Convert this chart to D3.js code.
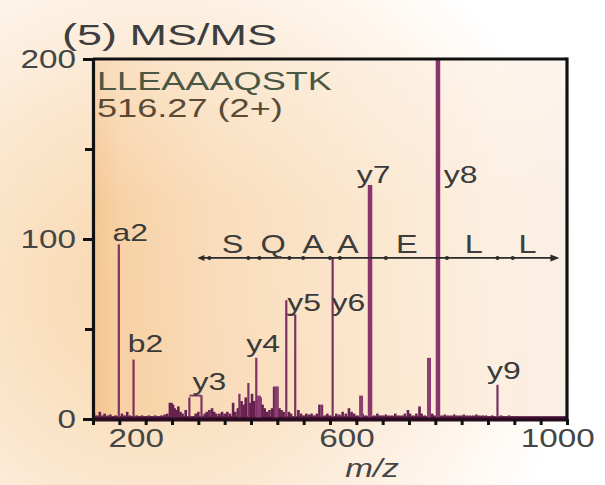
<!DOCTYPE html>
<html><head><meta charset="utf-8">
<script src="https://cdn.jsdelivr.net/npm/d3@7/dist/d3.min.js"></script>
<style>html,body{margin:0;padding:0;background:#fff;}svg{display:block;}</style>
</head><body><svg id="c" width="605" height="485"></svg>
<script>
// ---------- data ----------
const title = "(5) MS/MS";
const peptide = "LLEAAAQSTK";
const precursor = "516.27 (2+)";
const xTickLabels = [200, 600, 1000];
const yTickLabels = [0, 100, 200];

// main fragment peaks
const peakMz  = [199, 227, 333, 356, 428, 445, 460, 465, 498, 517, 534, 585, 605, 659, 676, 788, 805, 918];
const peakInt = [ 97,  33,  12,  13,  14,  20,  34,  13,  18,  66,  58,   8,  90,  13, 130,  34, 215,  19];

// bracket connectors between paired peaks: [from m/z, to m/z, intensity]
const bracketFrom = [333, 517];
const bracketTo   = [356, 534];
const bracketInt  = [13, 58];

// baseline noise peaks
const noiseMz  = [152,158,163,168,172,178,183,188,193,205,210,215,220,233,238,243,250,256,262,268,274,280,286,291,296,299,302,305,308,312,316,320,326,345,350,362,366,371,376,380,384,390,395,400,405,410,416,420,425,432,436,440,448,452,456,468,472,476,480,485,490,494,497,500,504,508,512,522,526,540,545,550,555,560,565,570,575,580,590,595,600,612,618,624,630,636,641,646,652,662,668,684,690,695,700,706,712,718,724,730,736,742,748,752,758,764,770,774,780,794,798,812,818,824,830,836,842,848,854,860,866,872,878,884,890,896,902,908,925,932,940,948,955];
const noiseInt = [3,2,4,2,3,2,2.5,1.5,2,3,2,4,2,2,1.5,2,1.5,2,1.5,2,1.5,2,2.5,3,9,9,8,6,5,7,4,3,5,3,4,3,4,5,6,4,3,3,4,3,4,3,9,4,6,10,8,12,9,14,10,12,8,6,4,5,6,18,17,18,6,5,4,4,3,5,3,2,3,2.5,3,2,3,8,2,3,2,3,2.5,4,3,6,4,3,2,3,2,2,3,2,2,2.5,2,2,3,2,2,3,5,3,2,3,7,3,2,3,2,2,2.5,2,2,2.5,2,2,2.5,2,2,2,2.5,2,2,2,1.5,2,2,1.5,2,1.5,1.5];

// peak labels: text and anchor (m/z, intensity) of label start / baseline
const labelText = ["a2","b2","y3","y4","y5","y6","y7","y8","y9"];
const labelMz   = [187, 216, 339, 441, 519, 603, 651, 816, 898];
const labelInt  = [ 99,  37,  16,  37,  60,  60, 131, 131,  22];

// sequence ladder annotation
const seqLetters = ["S","Q","A","A","E","L","L"];
const seqLetterMz = [415, 492, 568, 634, 746, 873, 975];
const seqDotsMz = [371, 445, 466, 523, 549, 600, 619, 706, 822, 918, 947];
const seqStartMz = 352, seqEndMz = 1030, seqInt = 89.5, seqLetterInt = 92.5;

// ---------- layout ----------
const L = 93, R = 567, T = 59, B = 419;
const svg = d3.select("#c");
const x = d3.scaleLinear().domain([150, 1050]).range([L, R]);
const y = d3.scaleLinear().domain([0, 200]).range([B, T]);
const FONT = "'Liberation Sans', Arial, Helvetica, sans-serif";

const defs = svg.append("defs");
const bg = defs.append("radialGradient").attr("id","bg").attr("gradientUnits","userSpaceOnUse")
  .attr("cx",150).attr("cy",290).attr("r",430);
bg.append("stop").attr("offset","0%").attr("stop-color","#f8d6ab");
bg.append("stop").attr("offset","45%").attr("stop-color","#fbe6cd");
bg.append("stop").attr("offset","80%").attr("stop-color","#fef6ee");
bg.append("stop").attr("offset","100%").attr("stop-color","#ffffff");
const pg = defs.append("linearGradient").attr("id","pg").attr("x1","0").attr("x2","1").attr("y1","0").attr("y2","0");
[["0%","#f4c48f"],["6%","#f7d0a2"],["25%","#f9dbb8"],["55%","#fbe5cb"],["85%","#fcefe0"],["100%","#fbeee4"]]
  .forEach(s => pg.append("stop").attr("offset",s[0]).attr("stop-color",s[1]));
const pv = defs.append("linearGradient").attr("id","pv").attr("x1","0").attr("x2","0").attr("y1","0").attr("y2","1");
pv.append("stop").attr("offset","0%").attr("stop-color","#ffffff").attr("stop-opacity",0.35);
pv.append("stop").attr("offset","40%").attr("stop-color","#ffffff").attr("stop-opacity",0.05);
pv.append("stop").attr("offset","100%").attr("stop-color","#ffffff").attr("stop-opacity",0);
const clip = defs.append("clipPath").attr("id","clip");
clip.append("rect").attr("x",L).attr("y",T).attr("width",R-L).attr("height",B-T);

svg.append("rect").attr("width",605).attr("height",485).attr("fill","url(#bg)");
svg.append("rect").attr("x",L).attr("y",T).attr("width",R-L).attr("height",B-T).attr("fill","url(#pg)");
svg.append("rect").attr("x",L).attr("y",T).attr("width",R-L).attr("height",B-T).attr("fill","url(#pv)");

function stretchedText(parent, px, py, str, size, sx, anchor, color, extra) {
  const g = parent.append("g").attr("transform", `translate(${px},${py}) scale(${sx},1)`);
  const t = g.append("text").attr("x",0).attr("y",0).text(str)
    .attr("font-family",FONT).attr("font-size",size).attr("fill",color)
    .attr("text-anchor",anchor||"start");
  if (extra) extra(t);
  return t;
}

// ---------- peaks ----------
const plot = svg.append("g").attr("clip-path","url(#clip)");
plot.append("rect").attr("x",L).attr("y",y(1.6)).attr("width",R-L).attr("height",B-y(1.6)).attr("fill","#5e1d4b");
plot.selectAll("line.noise").data(noiseMz).join("line").attr("class","noise")
  .attr("x1",d=>x(d)).attr("x2",d=>x(d)).attr("y1",B).attr("y2",(d,i)=>y(noiseInt[i]))
  .attr("stroke","#66214f").attr("stroke-width",2.6);
const thick = new Set([465, 498, 659, 788]);
const bold = new Set([676, 805]);
plot.selectAll("line.peak").data(peakMz).join("line").attr("class","peak")
  .attr("x1",d=>x(d)).attr("x2",d=>x(d)).attr("y1",B).attr("y2",(d,i)=>y(peakInt[i]))
  .attr("stroke",d=> bold.has(d) ? "#8a356d" : (thick.has(d) ? "#8e3d72" : "#7d3160"))
  .attr("stroke-width",d=> bold.has(d) ? 4.5 : (thick.has(d) ? 4 : 2.2));
plot.selectAll("line.bracket").data(bracketFrom).join("line").attr("class","bracket")
  .attr("x1",d=>x(d)).attr("x2",(d,i)=>x(bracketTo[i])).attr("y1",(d,i)=>y(bracketInt[i])).attr("y2",(d,i)=>y(bracketInt[i]))
  .attr("stroke","#7d3160").attr("stroke-width",1.8);

// ---------- sequence ladder ----------
const seqG = svg.append("g");
seqG.append("line").attr("x1",x(seqStartMz)).attr("x2",x(seqEndMz)-2).attr("y1",y(seqInt)).attr("y2",y(seqInt))
  .attr("stroke","#2a2a2a").attr("stroke-width",1.6);
seqG.append("path").attr("d",`M${x(seqEndMz)+3},${y(seqInt)} l-9,-3.5 l0,7 z`).attr("fill","#2a2a2a");
seqG.append("path").attr("d",`M${x(seqStartMz)-2},${y(seqInt)} l7,-3 l0,6 z`).attr("fill","#2a2a2a");
seqG.selectAll("circle").data(seqDotsMz).join("circle").attr("cx",d=>x(d)).attr("cy",y(seqInt)).attr("r",2).attr("fill","#2a2a2a");
seqLetters.forEach((s,i)=> stretchedText(seqG, x(seqLetterMz[i]), y(seqLetterInt), s, 25, 1.3, "middle", "#3d3d3d"));

// ---------- frame & axes ----------
svg.append("line").attr("x1",L).attr("x2",R).attr("y1",T).attr("y2",T).attr("stroke","#111").attr("stroke-width",3.2);
svg.append("line").attr("x1",R).attr("x2",R).attr("y1",T-1.5).attr("y2",B).attr("stroke","#111").attr("stroke-width",3.2);

const yAxis = svg.append("g").attr("transform",`translate(${L},0)`)
  .call(d3.axisLeft(y).tickValues([0,50,100,150,200]).tickFormat("").tickSize(9).tickSizeOuter(0));
yAxis.select(".domain").attr("stroke","#111").attr("stroke-width",3.2);
yAxis.selectAll(".tick line").attr("stroke","#111").attr("stroke-width",3)
  .attr("x2",d=> d%100===0 ? -10 : -8);

const xAxis = svg.append("g").attr("transform",`translate(0,${B})`)
  .call(d3.axisBottom(x).tickValues(d3.range(150,1051,50)).tickFormat("").tickSize(6).tickSizeOuter(0));
xAxis.select(".domain").attr("stroke","#2a0c20").attr("stroke-width",4);
xAxis.selectAll(".tick line").attr("stroke","#111").attr("stroke-width",3);

// tick labels
yTickLabels.forEach(v => stretchedText(svg, 76, y(v)+9, String(v), 26, 1.28, "end", "#454545"));
xTickLabels.forEach(v => stretchedText(svg, x(v)+17, 447, String(v), 26, 1.28, "middle", "#454545"));
stretchedText(svg, 372, 477, "m/z", 26, 1.28, "middle", "#454545", t=>t.attr("font-style","italic"));

// title and annotation text
stretchedText(svg, 62, 45, title, 30, 1.5, "start", "#3e3e3e");
stretchedText(svg, 97, 90, peptide, 26, 1.39, "start", "#4a5744");
stretchedText(svg, 97, 117, precursor, 26, 1.39, "start", "#5a4a33");

// peak labels
labelText.forEach((s,i)=> stretchedText(svg, x(labelMz[i]), y(labelInt[i]), s, 24, 1.33, "start", "#3a3a3a"));
</script></body></html>
